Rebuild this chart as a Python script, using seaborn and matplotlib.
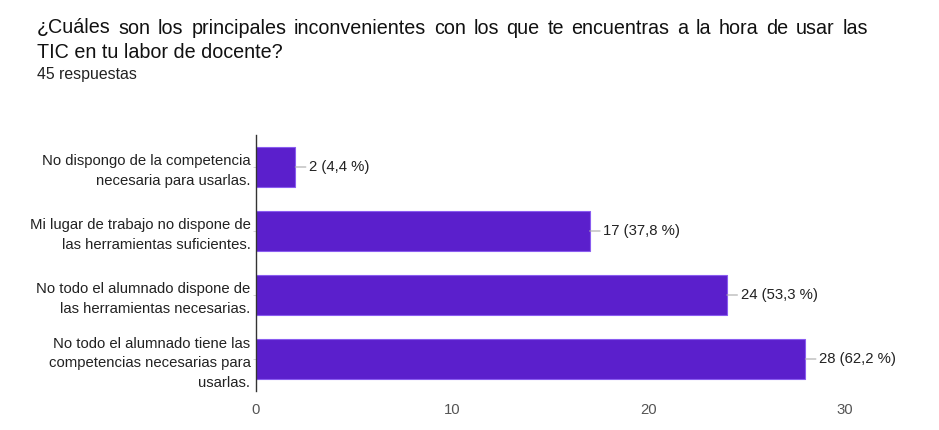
import pandas as pd
import numpy as np
import matplotlib.pyplot as plt
import seaborn as sns

categories = [
    "No dispongo de la competencia\nnecesaria para usarlas.",
    "Mi lugar de trabajo no dispone de\nlas herramientas suficientes.",
    "No todo el alumnado dispone de\nlas herramientas necesarias.",
    "No todo el alumnado tiene las\ncompetencias necesarias para\nusarlas.",
]
counts = [2, 17, 24, 28]
percents = ["4,4", "37,8", "53,3", "62,2"]
xticks = [0, 10, 20, 30]

title_line1 = "¿Cuáles son los principales inconvenientes con los que te encuentras a la hora de usar las"
title_line2 = "TIC en tu labor de docente?"
subtitle = "45 respuestas"

df = pd.DataFrame({"categoria": categories, "respuestas": counts})

sns.set_theme(style="white")
plt.rcParams["font.family"] = ["Liberation Sans", "DejaVu Sans"]

fig = plt.figure(figsize=(9.39, 4.3), dpi=100)
ax = fig.add_axes([256 / 939, 1 - 391 / 430, (923 - 256) / 939, 256 / 430])

sns.barplot(
    data=df,
    x="respuestas",
    y="categoria",
    orient="h",
    color="#5b1fcc",
    saturation=1,
    width=0.61,
    edgecolor="#8a5cf0",
    linewidth=0.8,
    ax=ax,
)

ax.set_xlim(0, 34)
ax.set_ylim(3.5, -0.5)
ax.set_xticks(xticks)
ax.set_xticklabels([str(t) for t in xticks], fontsize=10.7, color="#555555")
ax.tick_params(axis="x", length=0, pad=9)
ax.tick_params(axis="y", length=2, width=0.6, color="#cccccc", pad=2,
               labelsize=10.7, labelcolor="#222222", left=True)
for lab in ax.get_yticklabels():
    lab.set_horizontalalignment("right")
    lab.set_multialignment("right")
    lab.set_linespacing(1.5)

ax.set_xlabel("")
ax.set_ylabel("")
for side in ["top", "right", "bottom"]:
    ax.spines[side].set_visible(False)
ax.spines["left"].set_color("#333333")
ax.spines["left"].set_linewidth(1.0)

for i, (c, p) in enumerate(zip(counts, percents)):
    ax.annotate(
        f"{c} ({p} %)",
        xy=(c, i),
        xytext=(10, 0),
        textcoords="offset points",
        ha="left",
        va="center",
        fontsize=10.7,
        color="#222222",
        arrowprops=dict(arrowstyle="-", color="#aaaaaa", lw=0.8,
                        shrinkA=0, shrinkB=0),
    )

# first title line is justified between x=37 and x=868 px
renderer = fig.canvas.get_renderer()
words = title_line1.split(" ")
widths = []
for w in words:
    t = fig.text(0, 0, w, fontsize=14.2)
    widths.append(t.get_window_extent(renderer).width)
    t.remove()
gap = (868 - 37 - sum(widths)) / (len(words) - 1)
xpos = 37
for w, wd in zip(words, widths):
    fig.text(xpos / 939, 1 - 28 / 430, w, fontsize=14.2, color="#111111",
             va="center", ha="left")
    xpos += wd + gap

fig.text(37 / 939, 1 - 52 / 430, title_line2,
         fontsize=14.2, color="#111111", va="center", ha="left")
fig.text(37 / 939, 1 - 75 / 430, subtitle,
         fontsize=11.4, color="#222222", va="center", ha="left")

fig.savefig("out.png", dpi=100)
